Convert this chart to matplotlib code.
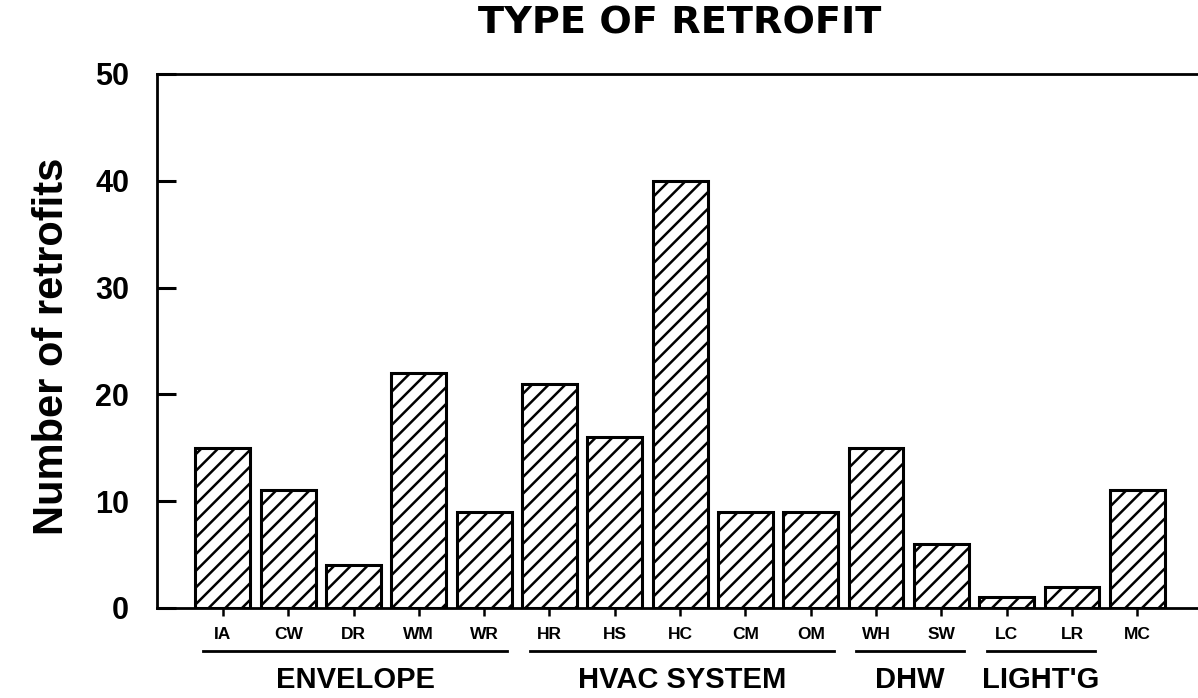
import matplotlib
matplotlib.use("Agg")
import matplotlib.pyplot as plt
import numpy as np

# data
codes = ["IA", "CW", "DR", "WM", "WR", "HR", "HS", "HC", "CM", "OM",
         "WH", "SW", "LC", "LR", "MC"]
counts = [15, 11, 4, 22, 9, 21, 16, 40, 9, 9, 15, 6, 1, 2, 11]
group_names = ["ENVELOPE", "HVAC SYSTEM", "DHW", "LIGHT'G"]
group_members = [["IA", "CW", "DR", "WM", "WR"],
                 ["HR", "HS", "HC", "CM", "OM"],
                 ["WH", "SW"],
                 ["LC", "LR"]]

plt.rcParams['font.family'] = ['Liberation Sans', 'DejaVu Sans']
plt.rcParams['hatch.linewidth'] = 1.8

fig = plt.figure(figsize=(11.98, 6.98), dpi=100)
ax = fig.add_axes([0.131, 0.129, 0.869, 0.765])

x = np.arange(len(codes))
ax.bar(x, counts, width=0.84, facecolor='white', edgecolor='black',
       linewidth=2.2, hatch='//')

ax.set_xlim(-1.01, 14.93)
ax.set_ylim(0, 50)
ax.set_yticks(range(0, 51, 10))
ax.tick_params(axis='y', which='major', left=True, direction='in',
               length=14, width=2.2, pad=20, labelsize=22)
for t in ax.get_yticklabels():
    t.set_fontweight('bold')
ax.set_xticks(x)
ax.set_xticklabels(codes, fontsize=12.5, fontweight='bold')
ax.tick_params(axis='x', direction='out', length=6, width=1.8, pad=8)

for s in ['left', 'bottom', 'top']:
    ax.spines[s].set_linewidth(2)
ax.spines['right'].set_visible(False)

ax.set_ylabel("Number of retrofits", fontsize=30, fontweight='bold')
ax.yaxis.set_label_coords(-0.082, 0.49)
fig.text(0.5676, 0.966, "TYPE OF RETROFIT", fontsize=27.5, fontweight='bold',
         family='DejaVu Sans', ha='center', va='center')

# group brackets under the tick labels
trans = ax.get_xaxis_transform()
for name, members in zip(group_names, group_members):
    idx = [codes.index(m) for m in members]
    lo, hi = min(idx) - 0.3, max(idx) + 0.35
    ax.plot([lo, hi], [-0.08, -0.08], color='black', lw=2,
            transform=trans, clip_on=False)
    ax.text((lo + hi) / 2, -0.134, name, transform=trans, ha='center',
            va='center', fontsize=21, fontweight='bold')

fig.savefig("out.png", dpi=100)
